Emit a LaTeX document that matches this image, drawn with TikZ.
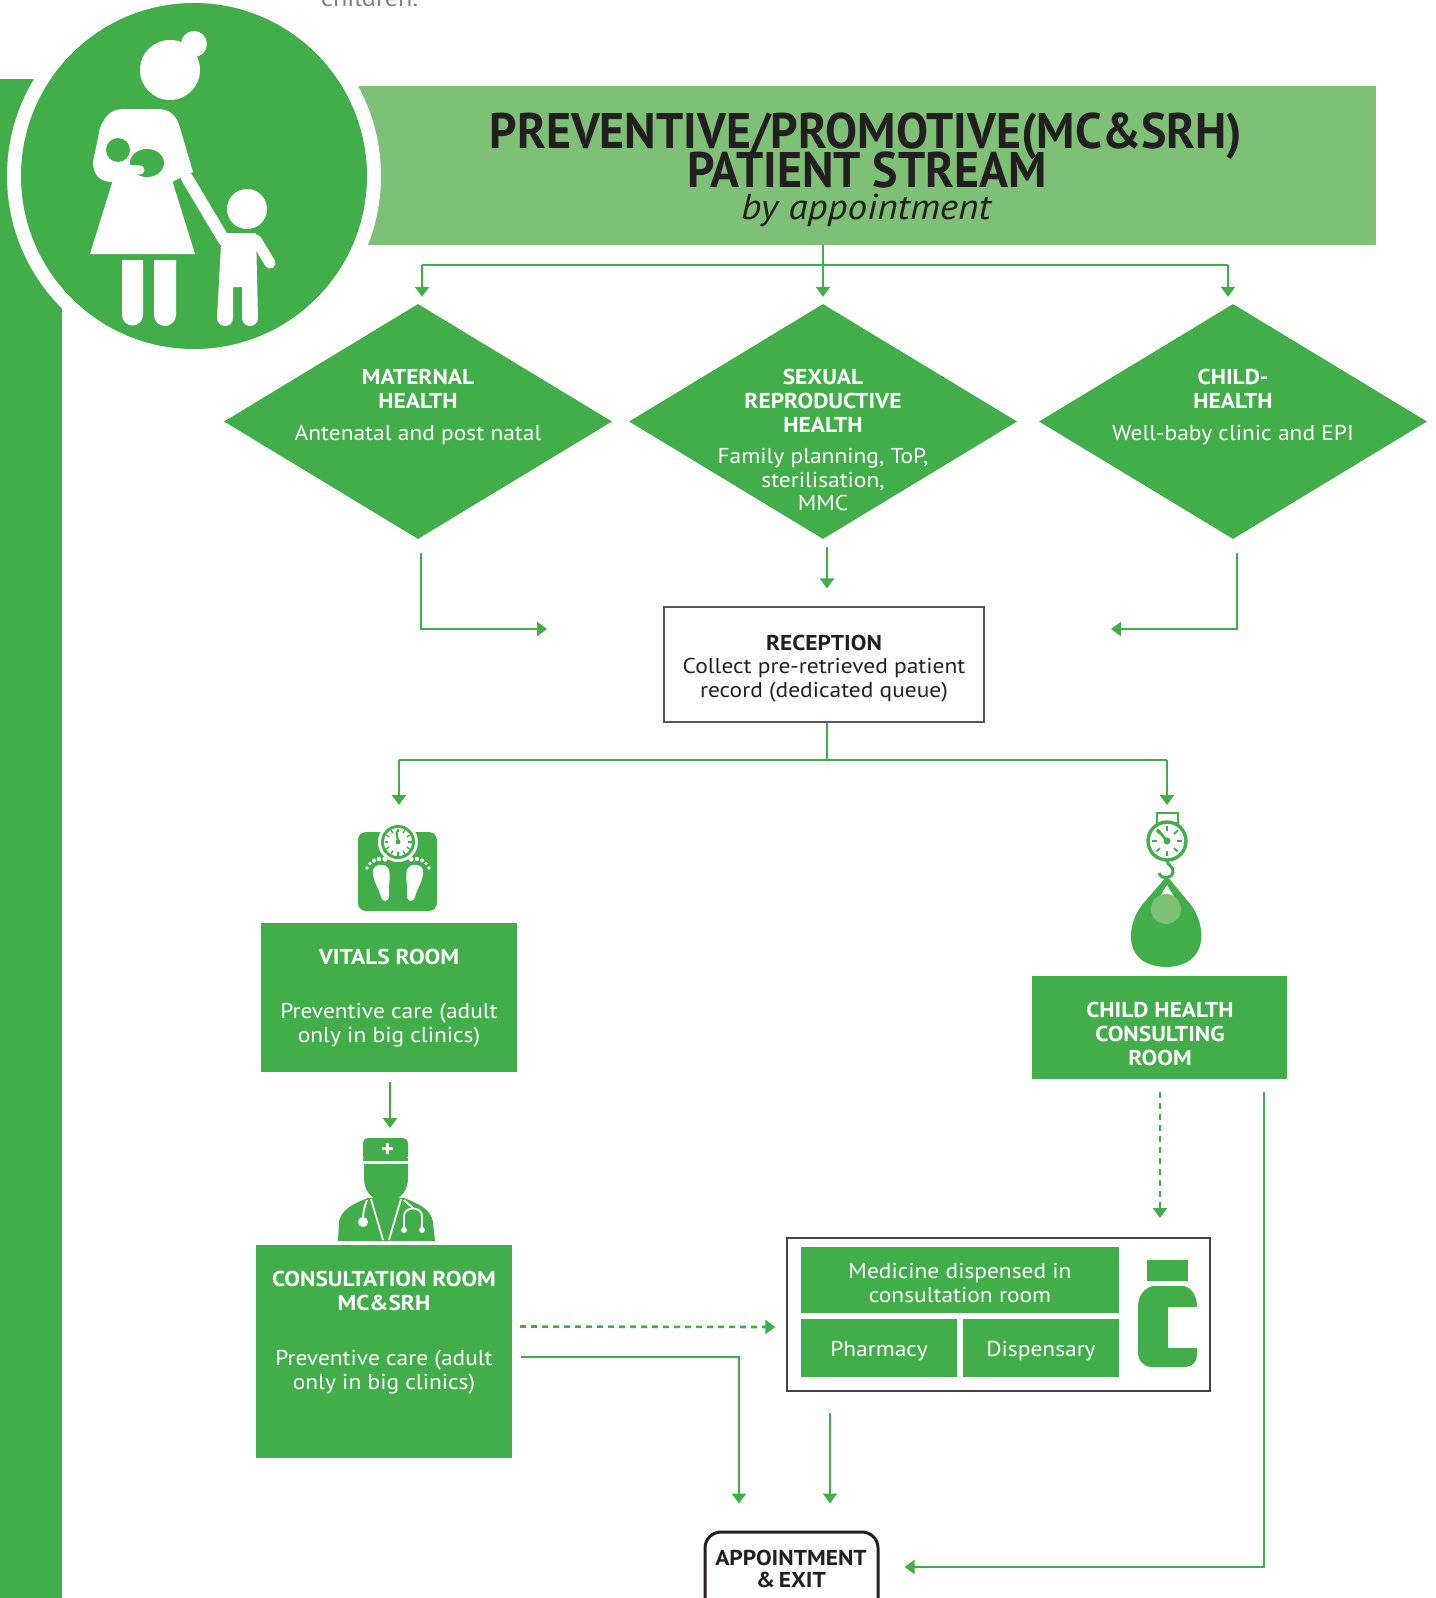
\documentclass[tikz,border=0pt]{standalone}
\usepackage{fontspec}
\setmainfont{PT Sans}[FakeStretch=1.09]
\usetikzlibrary{arrows.meta,shapes.geometric,calc}
\definecolor{hgreen}{RGB}{65,174,74}
\definecolor{hlight}{RGB}{126,192,118}
\definecolor{ink}{RGB}{35,31,32}
\begin{document}
\begin{tikzpicture}[x=1pt,y=-1pt,
  link/.style={draw=hgreen, line width=2.6pt},
  arr/.style={link, -{Triangle[width=14pt,length=10pt]}},
  dlink/.style={arr, dash pattern=on 6pt off 5pt},
  gbox/.style={fill=hgreen, draw=none, inner sep=0, rectangle},
  wtxt/.style={text=white, inner sep=0, anchor=base, font=\fontsize{21.5}{24}\selectfont},
  wbold/.style={wtxt, font=\fontsize{21.5}{24}\selectfont\bfseries},
  dtxt/.style={wtxt, text=ink},
  dbold/.style={wbold, text=ink},
  stream/.style={diamond, fill=hgreen, inner sep=0, minimum width=388pt, minimum height=235pt}
]
\useasboundingbox (0,0) rectangle (1435,1598);
\clip (0,0) rectangle (1435,1598);

% page furniture: side band, title banner, emblem
\fill[hgreen] (0,79) rectangle (62,1598);
\node[gbox, fill=hlight, minimum width=1036pt, minimum height=159pt] (head) at (858,165.5) {};
\node[anchor=base west, inner sep=0, text=gray, font=\fontsize{24}{26}\selectfont] (intro) at (321,6) {children.};
\fill[white] (194,176) circle (187);
\fill[hgreen] (194,176) circle (173);

% mother and child
\begin{scope}[white]
  \fill (170,70) circle (30);
  \fill (194,44) circle (13);
  \fill (100,128) .. controls (106,114) and (112,109) .. (125,109) -- (158,109)
        .. controls (170,109) and (177,116) .. (180,128) -- (193,172) -- (172,182) -- (113,182)
        .. controls (100,182) and (93,175) .. (93,162) -- cycle;
  \fill (113,180) -- (172,180) -- (195,254) -- (90,254) -- cycle;
  \draw[line width=12pt, line cap=round] (187,178) -- (224,240);
  \fill (122,260) -- (143,260) -- (143,315) arc (0:180:10.5) -- cycle;
  \fill (154,260) -- (176,260) -- (176,315) arc (0:180:11) -- cycle;
  \fill (247,209) circle (20);
  \fill (224,233) -- (256,233) -- (258,318) arc (0:180:8) -- (242,287) -- (233,287)
        -- (233,318) arc (0:180:8) -- (221,245) -- cycle;
  \draw[line width=11pt, line cap=round] (256,240) -- (270,263);
\end{scope}
\fill[hgreen] (118,150) circle (12);
\fill[hgreen] (147,163) ellipse (17 and 14);
\draw[white, line width=9pt, line cap=round] (108,168) -- (140,170);

% title
\node[anchor=base, inner sep=0, text=ink, font=\fontsize{50}{52}\selectfont\bfseries] (t1) at (866,148)
  {\scalebox{0.88}[1]{PREVENTIVE/PROMOTIVE(MC\&SRH)}};
\node[anchor=base, inner sep=0, text=ink, font=\fontsize{50}{52}\selectfont\bfseries] (t2) at (867,187)
  {\scalebox{0.88}[1]{PATIENT STREAM}};
\node[anchor=base, inner sep=0, text=ink, font=\fontsize{36}{38}\selectfont\itshape] (t3) at (866,219)
  {by appointment};

% the three streams
\node[stream] (dmat) at (418,421.5) {};
\node[stream] (dsrh) at (823,421.5) {};
\node[stream] (dchi) at (1233,421.5) {};

\node[wbold] (m1) at (418,384) {MATERNAL};
\node[wbold] (m2) at (418,408) {HEALTH};
\node[wtxt]  (m3) at (418,440) {Antenatal and post natal};
\node[wbold] (s1) at (823,384) {SEXUAL};
\node[wbold] (s2) at (823,408) {REPRODUCTIVE};
\node[wbold] (s3) at (823,432) {HEALTH};
\node[wtxt]  (s4) at (823,463) {Family planning, ToP,};
\node[wtxt]  (s5) at (823,487) {sterilisation,};
\node[wtxt]  (s6) at (823,510) {MMC};
\node[wbold] (c1) at (1233,384) {CHILD-};
\node[wbold] (c2) at (1233,408) {HEALTH};
\node[wtxt]  (c3) at (1233,440) {Well-baby clinic and EPI};

% banner to streams
\coordinate (hub) at (823,265);
\coordinate (hl) at (422,265);
\coordinate (hr) at (1228,265);
\draw[link] (head.south -| hub) -- (hub);
\draw[link] (hl) -- (hr);
\draw[arr] (hl) -- ($(hl |- dmat.north)+(0,-7)$);
\draw[arr] (hub) -- ($(hub |- dsrh.north)+(0,-7)$);
\draw[arr] (hr) -- ($(hr |- dchi.north)+(0,-7)$);

% reception
\node[rectangle, draw=gray!70!black, line width=1.1pt, minimum width=320pt, minimum height=115pt, inner sep=0] (rec) at (824,664.5) {};
\node[dbold] (r1) at (824,650) {RECEPTION};
\node[dtxt]  (r2) at (824,673) {Collect pre-retrieved patient};
\node[dtxt]  (r3) at (824,697) {record (dedicated queue)};

\coordinate (ml) at (421,629);
\coordinate (mr) at (1237,629);
\draw[arr] ($(dmat.south)+(3,14)$) -- (ml) -- (547,629);
\draw[arr] ($(dsrh.south)+(4,8)$) -- ($(rec.north)+(3,-18)$);
\draw[arr] ($(dchi.south)+(4,14)$) -- (mr) -- (1111,629);

% reception to rooms
\coordinate (rhub) at (827,760);
\coordinate (rl) at (399,760);
\coordinate (rr) at (1167,760);
\draw[link] (rec.south -| rhub) -- (rhub);
\draw[link] (rl) -- (rr);
\draw[arr] (rl) -- (399,805);
\draw[arr] (rr) -- (1167,805);

% bathroom scale
\fill[hgreen, rounded corners=8pt] (358,832) rectangle (437,911);
\coordinate (dial) at (398,842);
\fill[white] (dial) circle (20);
\fill[hgreen] (dial) circle (17);
\fill[white] (dial) circle (14);
\foreach \a in {0,30,...,330} \draw[hgreen, line width=1.3pt] (dial) ++(\a:10) -- ++(\a:3.5);
\draw[hgreen, line width=2.2pt, line cap=round] (dial) -- (396.5,832);
\fill[hgreen] (dial) circle (2.5);
\fill[white] (373,870) .. controls (372,880) and (379,888) .. (381,897) .. controls (382,903) and (390,902) .. (389,895)
   .. controls (388,886) and (391,878) .. (389,870) .. controls (387,863) and (375,863) .. (373,870) -- cycle;
\fill[white] (423,870) .. controls (424,880) and (417,888) .. (415,897) .. controls (414,903) and (406,902) .. (407,895)
   .. controls (408,886) and (405,878) .. (407,870) .. controls (409,863) and (421,863) .. (423,870) -- cycle;
\foreach \x/\y/\r in {367/868/1.8, 370/863.5/1.9, 374/860.5/2, 379/859/2.2, 385/859/2.6} {
  \fill[white] (\x,\y) circle (\r);
  \fill[white] (796-\x,\y) circle (\r);
}

% vitals room
\node[gbox, minimum width=256pt, minimum height=149pt] (vit) at (389,997.5) {};
\node[wbold] (v1) at (389,964) {VITALS ROOM};
\node[wtxt]  (v2) at (389,1018) {Preventive care (adult};
\node[wtxt]  (v3) at (389,1042) {only in big clinics)};
\draw[arr] ($(vit.south)+(1,10)$) -- (390,1128);

% nurse / doctor
\fill[hgreen, rounded corners=5pt] (363,1138) rectangle (408,1161);
\fill[hgreen] (363,1158) rectangle (408,1161);
\fill[white] (385.5,1142.5) rectangle (388.5,1153.5);
\fill[white] (381.5,1146.5) rectangle (392.5,1149.5);
\fill[hgreen] (364,1164) -- (408,1164) -- (408,1178) .. controls (408,1195) and (395,1202) .. (386,1202)
   .. controls (377,1202) and (364,1195) .. (364,1178) -- cycle;
\fill[hgreen] (338,1241) -- (339,1222) .. controls (341,1210) and (352,1204) .. (368,1198) -- (404,1198)
   .. controls (420,1204) and (431,1210) .. (433,1222) -- (435,1241) -- cycle;
\draw[white, line width=1.8pt] (371,1199) -- (383,1240);
\draw[white, line width=1.8pt] (401,1199) -- (389,1240);
\draw[white, line width=1.8pt] (367,1200) .. controls (364,1208) and (363,1213) .. (363,1219);
\fill[white] (363,1222) circle (5);
\draw[white, line width=1.8pt] (404,1200) .. controls (408,1204) and (411,1206) .. (413,1208);
\draw[white, line width=1.8pt] (404,1229) -- (404,1216) .. controls (404,1206) and (422,1206) .. (422,1216) -- (422,1229);
\fill[white] (404,1230) circle (3);
\fill[white] (422,1230) circle (3);

% consultation room
\node[gbox, minimum width=256pt, minimum height=213pt] (con) at (384,1351.5) {};
\node[wbold] (k1) at (384,1286) {CONSULTATION ROOM};
\node[wbold] (k2) at (384,1310) {MC\&SRH};
\node[wtxt]  (k3) at (384,1365) {Preventive care (adult};
\node[wtxt]  (k4) at (384,1389) {only in big clinics)};

% baby scale
\draw[hgreen, line width=2.6pt] (1157,813) rectangle (1178,823);
\coordinate (cdial) at (1167,841);
\fill[white] (cdial) circle (20);
\draw[hgreen, line width=3.4pt] (cdial) circle (19);
\foreach \a in {0,45,...,315} \draw[hgreen, line width=1.8pt] (cdial) ++(\a:10) -- ++(\a:5);
\draw[hgreen, line width=2.6pt, line cap=round] (cdial) -- (1158,830);
\fill[hgreen] (cdial) circle (3.5);
\draw[hgreen, line width=3pt] (1167,860) .. controls (1167,866) and (1174,866) .. (1173,872)
   .. controls (1172,879) and (1161,880) .. (1159,873);
\fill[hgreen] (1167,876) -- (1142,905) .. controls (1126,925) and (1122,966) .. (1166,967)
   .. controls (1210,966) and (1206,925) .. (1191,905) -- cycle;
\fill[white] (1167,885) -- (1158,900) -- (1176,900) -- cycle;
\fill[hlight] (1166,909) circle (15);

% child health consulting room
\node[gbox, minimum width=255pt, minimum height=103pt] (chr) at (1159.5,1027.5) {};
\node[wbold] (h1) at (1160,1017) {CHILD HEALTH};
\node[wbold] (h2) at (1160,1041) {CONSULTING};
\node[wbold] (h3) at (1160,1065) {ROOM};

% medicines
\node[rectangle, draw=ink!85, line width=1.3pt, minimum width=423pt, minimum height=153pt, inner sep=0] (med) at (998.5,1314.5) {};
\node[gbox, minimum width=318pt, minimum height=66pt] (mcr) at (960,1280) {};
\node[gbox, minimum width=156pt, minimum height=58pt] (pha) at (879,1348) {};
\node[gbox, minimum width=156pt, minimum height=58pt] (dis) at (1041,1348) {};
\node[wtxt] (q1) at (960,1278) {Medicine dispensed in};
\node[wtxt] (q2) at (960,1302) {consultation room};
\node[wtxt] (q3) at (879,1356) {Pharmacy};
\node[wtxt] (q4) at (1041,1356) {Dispensary};
\fill[hgreen] (1147,1260) rectangle (1188,1281);
\fill[hgreen] (1153,1286) -- (1184,1286) .. controls (1192,1288) and (1197,1296) .. (1197,1307) -- (1168,1307)
   -- (1168,1348) -- (1197,1348) -- (1197,1355) .. controls (1197,1362) and (1192,1367) .. (1185,1367)
   -- (1152,1367) .. controls (1144,1367) and (1138,1361) .. (1138,1352) -- (1138,1307)
   .. controls (1138,1296) and (1144,1288) .. (1153,1286) -- cycle;

% exit
\node[rectangle, draw=ink, line width=3pt, rounded corners=16pt, minimum width=173pt, minimum height=100pt, inner sep=0] (exit) at (791.5,1582) {};
\node[dbold] (e1) at (791,1565) {APPOINTMENT};
\node[dbold] (e2) at (791,1587) {\&\,EXIT};

% flows to medicines and exit
\draw[dlink] ($(con.east)+(8,-25)$) -- ($(med.west)+(-11,12.5)$);
\coordinate (cbend) at (739,1357);
\draw[arr] ($(con.east |- cbend)+(9,0)$) -- (cbend) -- ($(cbend |- exit.north)+(0,-27)$);
\draw[arr] ($(med.south)+(-168.5,21)$) -- ($(med.south |- exit.north)+(-168.5,-27)$);
\draw[dlink] ($(chr.south)+(0.5,13)$) -- (1160,1218);
\coordinate (xbend) at (1264,1567);
\draw[arr] ($(chr.south -| xbend)+(0,13)$) -- (xbend) -- ($(exit.east |- xbend)+(25,0)$);
\end{tikzpicture}
\end{document}
